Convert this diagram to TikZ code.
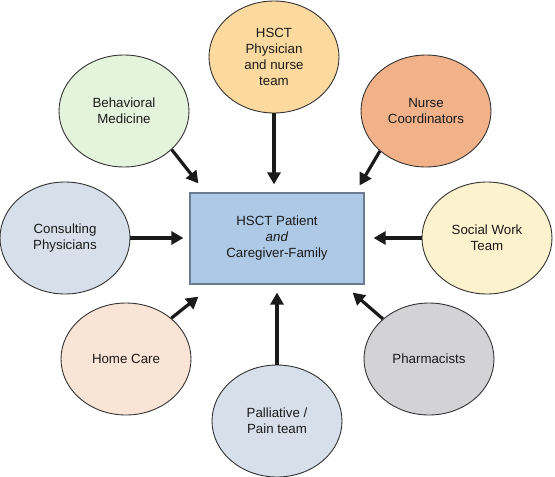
\documentclass[tikz,border=0pt]{standalone}
\usepackage{fontspec}
\setmainfont{Liberation Sans}
\usepackage{tikz}
\usetikzlibrary{arrows.meta,positioning,calc,shapes.geometric}
\definecolor{ink}{HTML}{1A1A1A}
\definecolor{rim}{HTML}{333333}
\definecolor{frame}{HTML}{6A7C93}
\definecolor{hubblue}{HTML}{ADC9E5}
\definecolor{apricot}{HTML}{FCDA9F}
\definecolor{mint}{HTML}{E4F3DC}
\definecolor{salmon}{HTML}{F1B28A}
\definecolor{steel}{HTML}{D6DFEA}
\definecolor{cream}{HTML}{FDF2CE}
\definecolor{blush}{HTML}{FAE4D6}
\definecolor{silver}{HTML}{D3D2D4}

\begin{document}
\begin{tikzpicture}[
  x=1pt,y=-1pt,
  every node/.style={font=\fontsize{13.3}{16}\selectfont,align=center,text=ink},
  member/.style={ellipse,draw=rim,line width=0.9pt,minimum width=130pt,minimum height=112pt,inner sep=0pt},
  hub/.style={draw=frame,line width=1.2pt,fill=hubblue,minimum width=174pt,minimum height=91pt,inner sep=0pt},
  arr/.style={-{Triangle[length=12pt,width=13pt]},line width=3.2pt,ink}
]
\useasboundingbox (0,0) rectangle (555,477);
\node[hub] (patient) at (277,238.5) {HSCT Patient\\\textit{and}\\Caregiver-Family};
\node[member,fill=apricot] (physician) at (274,57) {HSCT\\Physician\\and nurse\\team};
\node[member,fill=mint] (behavioral) at (124,111) {Behavioral\\Medicine};
\node[member,fill=salmon] (nurse) at (426,111) {Nurse\\Coordinators};
\node[member,fill=steel] (consulting) at (65,238) {Consulting\\Physicians};
\node[member,fill=cream] (social) at (487,238) {Social Work\\Team};
\node[member,fill=blush] (home) at (126,359) {Home Care};
\node[member,fill=silver] (pharma) at (429,359) {Pharmacists};
\node[member,fill=steel] (palliative) at (277,421) {Palliative /\\Pain team};
\draw[arr,shorten >=8pt] (physician) -- (physician |- patient.north);
\draw[arr] (behavioral.-39) -- ([xshift=9pt,yshift=9pt]patient.north west);
\draw[arr] (nurse.-139) -- ([xshift=-5pt,yshift=7pt]patient.north east);
\draw[arr,shorten >=6pt] (consulting) -- (consulting -| patient.west);
\draw[arr,shorten >=9pt] (social) -- (social -| patient.east);
\draw[arr] (home.42) -- ([xshift=9pt,yshift=-12pt]patient.south west);
\draw[arr,shorten >=8pt] (palliative) -- (palliative |- patient.south);
\draw[arr] (pharma.139) -- ([xshift=-12pt,yshift=-8pt]patient.south east);
\end{tikzpicture}
\end{document}
